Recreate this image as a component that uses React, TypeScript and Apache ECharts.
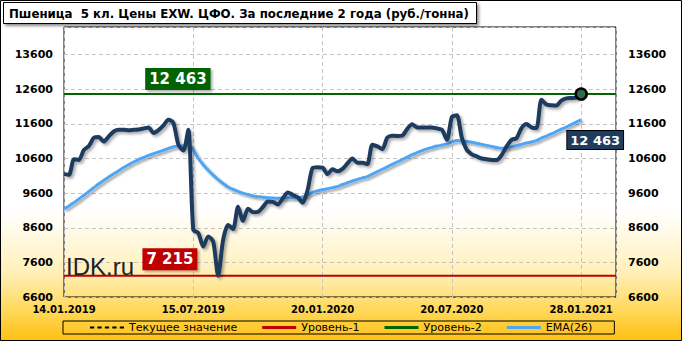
import React, { useEffect, useRef } from "react";
import * as echarts from "echarts";

const titleText = "Пшеница  5 кл. Цены EXW. ЦФО. За последние 2 года (руб./тонна)";
const xTickLabels = ["14.01.2019", "15.07.2019", "20.01.2020", "20.07.2020", "28.01.2021"];
const pointsPerTick = 26;
const xMax = 111;

const price = [
  10150, 10130, 10580, 10560, 10850, 10960, 11200, 11220, 11090, 11240,
  11380, 11430, 11430, 11420, 11430, 11440, 11470, 11500, 11340, 11420,
  11560, 11720, 11630, 11000, 10830, 11430, 8540, 8450, 8055, 8350,
  8200, 7215, 8250, 8680, 8560, 9210, 8800, 9150, 9050, 9060,
  9200, 9360, 9350, 9270, 9450, 9620, 9550, 9480, 9320, 9700,
  10330, 10350, 10340, 10150, 10290, 10230, 10300, 10460, 10600, 10480,
  10480, 10440, 11000, 10950, 10870, 11200, 11260, 11250, 11260, 11450,
  11590, 11500, 11500, 11500, 11500, 11470, 11430, 11140, 11800, 11850,
  11200, 10850, 10720, 10660, 10600, 10580, 10560, 10560, 10700, 10950,
  11140, 11190, 11480, 11600, 11500, 11480, 12300, 12160, 12140, 12130,
  12270, 12340, 12350, 12360, 12463,
];

const ema26 = [
  9140, 9230, 9330, 9430, 9540, 9650, 9760, 9870, 9970, 10070,
  10160, 10250, 10340, 10420, 10500, 10570, 10630, 10690, 10740, 10790,
  10840, 10890, 10940, 10960, 10970, 10990, 10850, 10600, 10420, 10260,
  10120, 9990, 9880, 9780, 9710, 9650, 9600, 9560, 9520, 9500,
  9480, 9470, 9460, 9455, 9460, 9465, 9470, 9470, 9490, 9550,
  9620, 9670, 9700, 9730, 9760, 9790, 9850, 9900, 9950, 10000,
  10040, 10080, 10150, 10220, 10290, 10360, 10430, 10500, 10570, 10640,
  10710, 10770, 10830, 10880, 10920, 10960, 10990, 11020, 11080, 11120,
  11110, 11090, 11070, 11040, 11010, 10980, 10950, 10920, 10900, 10910,
  10940, 10970, 11010, 11050, 11080, 11120, 11190, 11250, 11310, 11380,
  11450, 11510, 11580, 11650, 11720,
];

const level1 = 7215;
const level2 = 12463;
const currentValue = price[price.length - 1];

const yMin = 6600;
const yMax = 14400;
const yStep = 1000;

const fmt = (v: number) => String(v).replace(/\B(?=(\d{3})+(?!\d))/g, " ");

const FONT = "DejaVu Sans";
const DASH_ICON =
  "path://M0,0h4v2h-4z M7,0h4v2h-4z M14,0h4v2h-4z M21,0h4v2h-4z M28,0h4v2h-4z";

export default function App() {
  const ref = useRef<HTMLDivElement>(null);

  useEffect(() => {
    document.body.style.margin = "0";
    if (!ref.current) return;
    const chart = echarts.init(ref.current, undefined, { renderer: "svg" });
    const lastIdx = price.length - 1;
    const shadow = {
      shadowColor: "rgba(0,0,0,0.35)",
      shadowBlur: 3,
      shadowOffsetX: 2,
      shadowOffsetY: 2,
    };
    const yAxisCommon = {
      type: "value",
      min: yMin,
      max: yMax,
      interval: yStep,
      axisLine: { show: false },
      axisTick: { show: false },
      axisLabel: {
        showMaxLabel: false,
        fontFamily: FONT,
        fontSize: 11,
        fontWeight: "bold",
        color: "#000",
        formatter: (v: number) => String(v),
      },
    };
    chart.setOption({
      animation: false,
      backgroundColor: "transparent",
      graphic: [
        {
          type: "rect",
          z: -10,
          silent: true,
          shape: { x: 0, y: 0, width: 682, height: 341 },
          style: {
            fill: new echarts.graphic.LinearGradient(0, 0, 0, 1, [
              { offset: 0, color: "#ffffff" },
              { offset: 0.62, color: "#ffffff" },
              { offset: 0.8, color: "#fff0b8" },
              { offset: 0.9, color: "#ffda62" },
              { offset: 1, color: "#ffc010" },
            ]),
          },
        },
        {
          type: "rect",
          z: 100,
          silent: true,
          shape: { x: 0.5, y: 0.5, width: 681, height: 340 },
          style: { fill: "none", stroke: "#000", lineWidth: 1 },
        },
        {
          type: "rect",
          z: 10,
          shape: { x: 3.5, y: 2.5, width: 473, height: 21 },
          style: {
            fill: "#fff",
            stroke: "#000",
            lineWidth: 1,
            shadowBlur: 3,
            shadowOffsetX: 2,
            shadowOffsetY: 2,
            shadowColor: "rgba(0,0,0,0.45)",
          },
        },
        {
          type: "text",
          z: 11,
          x: 9,
          y: 13.5,
          style: {
            text: titleText,
            fontFamily: FONT,
            fontSize: 11.8,
            fontWeight: "bold",
            fill: "#000",
            verticalAlign: "middle",
          },
        },
        {
          type: "text",
          z: 5,
          x: 66,
          y: 266,
          style: {
            text: "IDK.ru",
            fontFamily: "Liberation Sans",
            fontSize: 24,
            fill: "#222",
            verticalAlign: "middle",
          },
        },
      ],
      grid: {
        left: 64,
        right: 66,
        top: 27,
        bottom: 44,
        show: true,
        borderColor: "#000",
        borderWidth: 1,
        backgroundColor: "transparent",
      },
      legend: {
        left: 63,
        top: 321,
        backgroundColor: "transparent",
        borderColor: "#000",
        borderWidth: 1,
        padding: [1, 22, 1, 27],
        itemGap: 25,
        itemWidth: 34,
        itemHeight: 3,
        selectedMode: false,
        textStyle: { fontFamily: FONT, fontSize: 11, color: "#000", lineHeight: 11 },
        data: [
          { name: "Текущее значение", icon: DASH_ICON, itemStyle: { color: "#000" } },
          { name: "Уровень-1", icon: "rect" },
          { name: "Уровень-2", icon: "rect" },
          { name: "EMA(26)", icon: "rect" },
        ],
      },
      xAxis: {
        type: "value",
        min: 0,
        max: xMax,
        interval: pointsPerTick,
        axisLine: { show: false },
        axisTick: { show: false },
        splitLine: { show: true, lineStyle: { color: "#c4c4c4", type: [4, 3], width: 1 } },
        axisLabel: {
          showMaxLabel: false,
          margin: 7,
          fontFamily: FONT,
          fontSize: 10,
          fontWeight: "bold",
          color: "#000",
          formatter: (v: number) =>
            v % pointsPerTick === 0 ? xTickLabels[v / pointsPerTick] ?? "" : "",
        },
      },
      yAxis: [
        {
          ...yAxisCommon,
          position: "left",
          splitLine: { show: true, lineStyle: { color: "#c4c4c4", type: [4, 3], width: 1 } },
          axisLabel: { ...yAxisCommon.axisLabel, margin: 11 },
        },
        {
          ...yAxisCommon,
          position: "right",
          splitLine: { show: false },
          axisLabel: { ...yAxisCommon.axisLabel, margin: 12 },
        },
      ],
      series: [
        {
          name: "Текущее значение",
          type: "line",
          symbol: "none",
          data: [
            [0, currentValue],
            [xMax, currentValue],
          ],
          lineStyle: { color: "#000", width: 1, type: [4, 3] },
          itemStyle: { color: "#000" },
          z: 1,
        },
        {
          name: "Уровень-1",
          type: "line",
          symbol: "none",
          data: [
            [0, level1],
            [xMax, level1],
          ],
          lineStyle: { color: "#c00000", width: 2 },
          itemStyle: { color: "#c00000" },
          z: 2,
          markPoint: {
            symbol: "rect",
            symbolSize: 1,
            itemStyle: { color: "transparent" },
            data: [
              {
                coord: [21.3, level1],
                value: level1,
                label: {
                  show: true,
                  offset: [0, -16.5],
                  formatter: () => fmt(level1),
                  backgroundColor: "#c00000",
                  color: "#fff",
                  fontFamily: FONT,
                  fontSize: 15,
                  fontWeight: "bold",
                  padding: [4, 4, 3, 4],
                  shadowColor: "rgba(0,0,0,0.3)",
                  shadowBlur: 2,
                  shadowOffsetX: 2,
                  shadowOffsetY: 2,
                },
              },
            ],
          },
        },
        {
          name: "Уровень-2",
          type: "line",
          symbol: "none",
          data: [
            [0, level2],
            [xMax, level2],
          ],
          lineStyle: { color: "#006400", width: 2 },
          itemStyle: { color: "#006400" },
          z: 2,
          markPoint: {
            symbol: "rect",
            symbolSize: 1,
            itemStyle: { color: "transparent" },
            data: [
              {
                coord: [22.9, level2],
                value: level2,
                label: {
                  show: true,
                  offset: [0, -15],
                  formatter: () => fmt(level2),
                  backgroundColor: "#006400",
                  color: "#fff",
                  fontFamily: FONT,
                  fontSize: 15,
                  fontWeight: "bold",
                  padding: [4, 4, 3, 4],
                  shadowColor: "rgba(0,0,0,0.3)",
                  shadowBlur: 2,
                  shadowOffsetX: 2,
                  shadowOffsetY: 2,
                },
              },
            ],
          },
        },
        {
          name: "EMA(26)",
          type: "line",
          symbol: "none",
          smooth: 0.3,
          data: ema26.map((v, i) => [i, v]),
          lineStyle: { color: "#4ea6f5", width: 3, ...shadow, shadowBlur: 2 },
          itemStyle: { color: "#4ea6f5" },
          z: 3,
        },
        {
          name: "Цена",
          type: "line",
          symbol: "none",
          smooth: 0.25,
          data: price.map((v, i) => [i, v]),
          lineStyle: { color: "#1f3b5e", width: 4, ...shadow },
          itemStyle: { color: "#1f3b5e" },
          z: 4,
          markPoint: {
            data: [
              {
                coord: [lastIdx, currentValue],
                symbol: "circle",
                symbolSize: 11,
                itemStyle: { color: "#2f6b4a", borderColor: "#000", borderWidth: 2.5 },
                label: { show: false },
              },
              {
                coord: [lastIdx, currentValue],
                symbol: "rect",
                symbolSize: 1,
                itemStyle: { color: "transparent" },
                label: {
                  show: true,
                  offset: [14, 46],
                  formatter: () => fmt(currentValue),
                  backgroundColor: "#1f3b5e",
                  borderColor: "#000",
                  borderWidth: 1,
                  color: "#fff",
                  fontFamily: FONT,
                  fontSize: 13,
                  fontWeight: "bold",
                  padding: [3, 3, 2, 3],
                },
              },
            ],
          },
        },
      ],
    });
    return () => chart.dispose();
  }, []);

  return <div ref={ref} style={{ width: 682, height: 341 }} />;
}
